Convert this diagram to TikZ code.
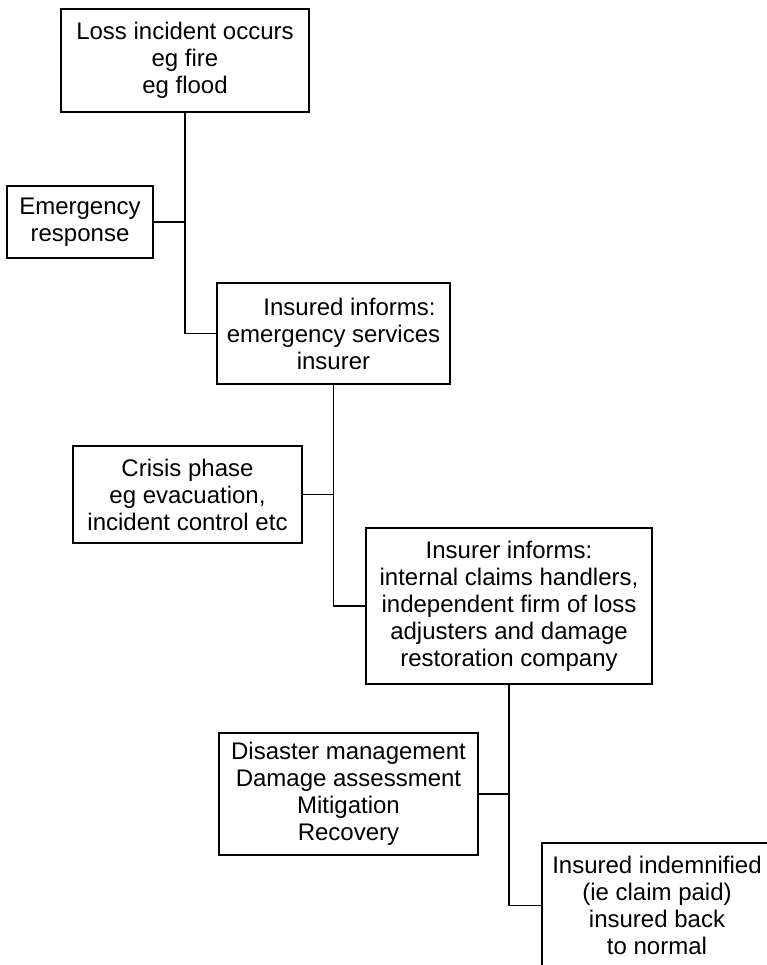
\documentclass[tikz,border=0pt]{standalone}
\usepackage{fontspec}
\setmainfont{Liberation Sans}
\begin{document}
\begin{tikzpicture}[x=1pt,y=-1pt,
  stagebox/.style={draw=black, line width=1.8pt, inner sep=0pt, align=center,
    font=\fontsize{24}{27}\selectfont, text=black},
  link/.style={draw=black, line width=1.3pt}]
  \useasboundingbox (0,0) rectangle (767,965);
  \clip (0,0) rectangle (767,965);
  \fill[white] (0,0) rectangle (767,965);

  % main chain of the claim process
  \node[stagebox, minimum width=248pt, minimum height=103pt] (loss) at (185,60.5)
    {Loss incident occurs\\eg fire\\eg flood};
  \node[stagebox, minimum width=233pt, minimum height=101pt] (insured) at (333.5,333.5)
    {\hspace*{32pt}Insured informs:\\emergency services\\insurer};
  \node[stagebox, minimum width=286pt, minimum height=156pt] (insurer) at (509,606)
    {Insurer informs:\\internal claims handlers,\\independent firm of loss\\adjusters and damage\\restoration company};
  \node[stagebox, minimum width=230pt, minimum height=125pt] (paid) at (657,905.5)
    {Insured indemnified\\(ie claim paid)\\insured back\\to normal};

  % side activities
  \node[stagebox, minimum width=146pt, minimum height=72pt] (emerg) at (80,222)
    {Emergency\\response};
  \node[stagebox, minimum width=229pt, minimum height=97pt] (crisis) at (187.5,494.5)
    {Crisis phase\\eg evacuation,\\incident control etc};
  \node[stagebox, minimum width=259pt, minimum height=122pt] (disaster) at (348.5,794)
    {Disaster management\\Damage assessment\\Mitigation\\Recovery};

  % connectors
  \draw[link] (loss.south) |- (insured.west);
  \draw[link] (emerg.east) -- (emerg.east -| loss.south);
  \draw[link] (insured.south) |- (insurer.west);
  \draw[link] (crisis.east) -- (crisis.east -| insured.south);
  \draw[link] (insurer.south) |- (paid.west);
  \draw[link] (disaster.east) -- (disaster.east -| insurer.south);
\end{tikzpicture}
\end{document}
